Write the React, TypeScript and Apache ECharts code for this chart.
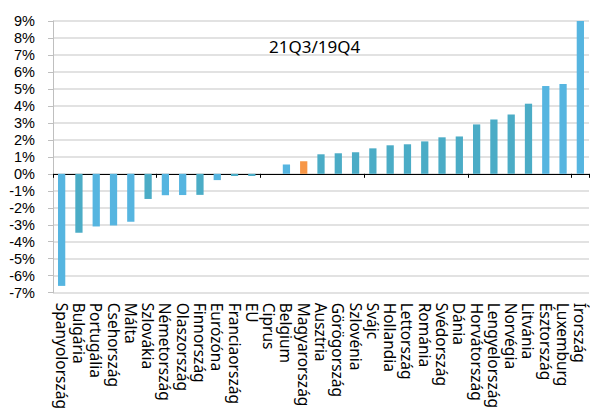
import React, { useEffect, useRef } from "react";
import * as echarts from "echarts";

const categories = [
  "Spanyolország", "Bulgária", "Portugália", "Csehország", "Málta", "Szlovákia",
  "Németország", "Olaszország", "Finnország", "Eurózóna", "Franciaország", "EU",
  "Ciprus", "Belgium", "Magyarország", "Ausztria", "Görögország", "Szlovénia",
  "Svájc", "Hollandia", "Lettország", "Románia", "Svédország", "Dánia",
  "Horvátország", "Lengyelország", "Norvégia", "Litvánia", "Észtország",
  "Luxemburg", "Írország",
];

const values = [
  -6.6, -3.47, -3.1, -3.04, -2.82, -1.48,
  -1.26, -1.25, -1.24, -0.37, -0.13, -0.13,
  0.0, 0.55, 0.74, 1.15, 1.21, 1.27,
  1.5, 1.68, 1.74, 1.91, 2.15, 2.2,
  2.91, 3.2, 3.49, 4.13, 5.17,
  5.29, 9.0,
];

// colour group per bar: "a" light blue, "b" teal, "h" highlight (Hungary)
const colorGroups = [
  "a", "b", "a", "a", "a", "b",
  "a", "a", "b", "a", "b", "b",
  "b", "a", "h", "b", "b", "b",
  "b", "b", "b", "b", "b", "b",
  "b", "b", "b", "b", "a",
  "a", "a",
];

const yTicks = { min: -7, max: 9, interval: 1 };
const title = "21Q3/19Q4";

const palette: Record<string, string> = { a: "#56B5E0", b: "#4BACC6", h: "#F79646" };

export default function App() {
  const ref = useRef<HTMLDivElement>(null);
  useEffect(() => {
    if (!ref.current) return;
    const chart = echarts.init(ref.current, null, { renderer: "svg" });
    const font = "Noto Sans";
    chart.setOption({
      animation: false,
      grid: { left: 53, right: 1, top: 21, bottom: 118, containLabel: false },
      title: {
        text: title,
        left: 264,
        top: 33,
        textStyle: { fontFamily: font, fontSize: 17, fontWeight: "normal", color: "#000" },
      },
      xAxis: [
        {
          type: "category",
          data: categories,
          position: "bottom",
          axisLine: { show: false, onZero: false },
          axisTick: { show: false },
          axisLabel: {
            rotate: -90,
            interval: 0,
            margin: 10,
            fontFamily: font,
            fontSize: 15.5,
            lineHeight: 15,
            color: "#000",
          },
        },
        {
          type: "category",
          data: categories,
          position: "bottom",
          axisLine: { show: true, onZero: true, lineStyle: { color: "#000", width: 1 } },
          axisTick: { show: true, length: 4, lineStyle: { color: "#000" } },
          axisLabel: { show: false },
        },
      ],
      yAxis: {
        type: "value",
        min: yTicks.min,
        max: yTicks.max,
        interval: yTicks.interval,
        axisLine: { show: true, lineStyle: { color: "#BFBFBF" } },
        axisTick: { show: true, length: 5, lineStyle: { color: "#BFBFBF" } },
        splitLine: { show: true, lineStyle: { color: "#D9D9D9", width: 1.5 } },
        axisLabel: {
          formatter: (v: number) => `${v}%`,
          margin: 18,
          fontFamily: "Liberation Sans",
          fontSize: 14.5,
          lineHeight: 14,
          color: "#000",
        },
      },
      series: [
        {
          type: "bar",
          xAxisIndex: 0,
          barWidth: "42%",
          data: values.map((v, i) => ({
            value: v,
            itemStyle: { color: palette[colorGroups[i]] },
          })),
        },
      ],
    });
    return () => chart.dispose();
  }, []);
  return (
    <div
      ref={ref}
      style={{ position: "fixed", left: 0, top: 0, width: 590, height: 412, background: "#fff" }}
    />
  );
}
